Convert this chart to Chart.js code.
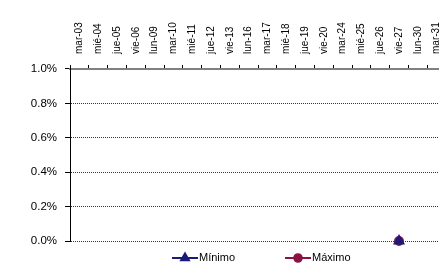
<!DOCTYPE html>
<html>
<head>
<meta charset="utf-8">
<script src="https://cdn.jsdelivr.net/npm/chart.js@4"></script>
<style>
  html, body { margin: 0; padding: 0; background: #fff; overflow: hidden; }
  #wrap { width: 453px; height: 264px; }
</style>
</head>
<body>
<div id="wrap"><canvas id="dataChart" width="453" height="264"></canvas></div>
<script>
const labels = ['mar-03', 'mié-04', 'jue-05', 'vie-06', 'lun-09', 'mar-10', 'mié-11', 'jue-12', 'vie-13', 'lun-16',
    'mar-17', 'mié-18', 'jue-19', 'vie-20', 'mar-24', 'mié-25', 'jue-26', 'vie-27', 'lun-30', 'mar-31'];
const minimo = [null, null, null, null, null, null, null, null, null, null,
    null, null, null, null, null, null, null, 0, null, null];
const maximo = [null, null, null, null, null, null, null, null, null, null,
    null, null, null, null, null, null, null, 0, null, null];
const yTicks = [0, 0.2, 0.4, 0.6, 0.8, 1.0];

const minColor = '#1a1a78';
const maxColor = '#8a1346';
const font = 'Liberation Sans, Arial, sans-serif';

Chart.defaults.font.family = font;
Chart.defaults.color = '#000';

// legend drawn by hand so the line + marker look like the original
const legendPlugin = {
    id: 'lineLegend',
    afterDraw(chart) {
        const ctx = chart.ctx;
        const y = 258;
        const items = [
            { x: 172, text: 'Mínimo', color: minColor, style: 'triangle', r: 4.5 },
            { x: 285, text: 'Máximo', color: maxColor, style: 'circle', r: 3.8 }
        ];
        ctx.save();
        items.forEach(it => {
            ctx.strokeStyle = it.color;
            ctx.lineWidth = 2;
            ctx.beginPath();
            ctx.moveTo(it.x, y);
            ctx.lineTo(it.x + 26, y);
            ctx.stroke();
            ctx.fillStyle = it.color;
            Chart.helpers.drawPoint(ctx, { pointStyle: it.style, radius: it.r, borderWidth: 1 }, it.x + 13, y);
            ctx.fill();
            ctx.fillStyle = '#000';
            ctx.font = '11px ' + font;
            ctx.textBaseline = 'middle';
            ctx.fillText(it.text, it.x + 27, y);
        });
        ctx.restore();
    }
};

const ctx = document.getElementById('dataChart');

var myChart = new Chart(ctx, {
    type: 'line',
    data: {
        labels: labels,
        datasets: [{
            label: 'Mínimo',
            data: minimo,
            borderColor: minColor,
            backgroundColor: minColor,
            pointStyle: 'triangle',
            pointRadius: 5,
            borderWidth: 2,
            clip: false
        }, {
            label: 'Máximo',
            data: maximo,
            borderColor: maxColor,
            backgroundColor: maxColor,
            pointStyle: 'circle',
            pointRadius: 4,
            borderWidth: 2,
            clip: false
        }]
    },
    options: {
        responsive: false,
        animation: false,
        layout: { padding: { top: 11.3, right: 0, bottom: 23, left: 0 } },
        plugins: {
            legend: { display: false },
            tooltip: { enabled: false }
        },
        scales: {
            x: {
                position: 'top',
                offset: true,
                afterFit(scale) {
                    scale.paddingLeft = 0;
                    scale.paddingRight = 0;
                },
                grid: {
                    drawOnChartArea: false,
                    drawTicks: true,
                    tickLength: 4,
                    tickColor: '#000',
                    offset: true
                },
                border: { color: '#808080', width: 2 },
                ticks: {
                    minRotation: 90,
                    maxRotation: 90,
                    autoSkip: false,
                    padding: 11,
                    labelOffset: 12,
                    font: { size: 10 }
                }
            },
            y: {
                min: 0,
                max: 1,
                afterFit(scale) { scale.width = 70; },
                afterBuildTicks(scale) { scale.ticks = yTicks.map(v => ({ value: v })); },
                grid: {
                    color: '#333',
                    tickColor: '#000',
                    tickLength: 5,
                    drawTicks: true
                },
                border: { color: '#000', width: 1, dash: [1, 1] },
                ticks: {
                    padding: 8,
                    font: { size: 11.5 },
                    callback: v => v.toFixed(1) + '%'
                }
            }
        }
    },
    plugins: [legendPlugin]
});
</script>
</body>
</html>
